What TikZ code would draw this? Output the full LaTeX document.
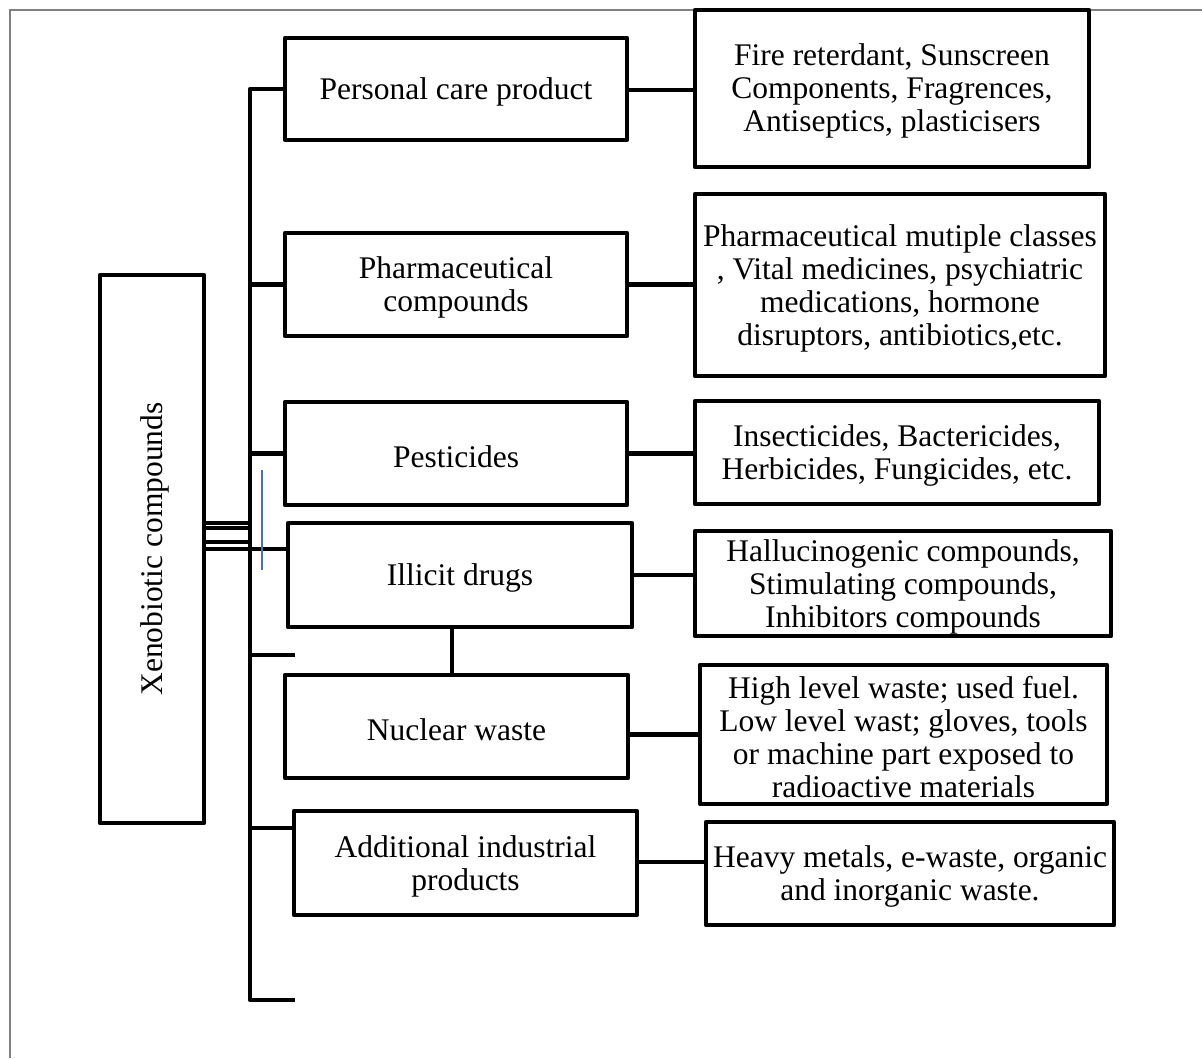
\documentclass[tikz,border=0pt]{standalone}
\usepackage{fontspec}
\setmainfont{Liberation Serif}
\definecolor{frame}{RGB}{128,128,128}
\definecolor{bluemark}{RGB}{68,114,196}
\begin{document}
\begin{tikzpicture}[x=1pt,y=-1pt,
  box/.style={draw, line width=4.6pt, rectangle, inner sep=0pt, line join=round},
  txt/.style={inner sep=0pt, align=center, font=\fontsize{31.5}{33}\selectfont},
  conn/.style={line width=4.6pt, line join=round},
  thinconn/.style={line width=4pt},
  bluestroke/.style={draw=bluemark, line width=1.5pt}]
\useasboundingbox (0,0) rectangle (1202,1058);
\draw[frame, line width=2pt] (10,1058) -- (10,10) -- (1202,10);

% left column
\node[box, minimum width=104, minimum height=548] (xeno) at (152,549) {};
\node[txt, rotate=90] (xenot) at ([xshift=3pt]xeno.center) {Xenobiotic compounds};
\node[box, minimum width=342, minimum height=102] (pc) at (456,89) {};
\node[txt] (pct) at ([yshift=-3pt]pc.center) {Personal care product};
\node[box, minimum width=342, minimum height=103] (ph) at (456,284.5) {};
\node[txt] (pht) at ([yshift=-3pt]ph.center) {Pharmaceutical\\compounds};
\node[box, minimum width=342, minimum height=103] (pe) at (456,453.5) {};
\node[txt] (pet) at ([yshift=-3pt]pe.center) {Pesticides};
\node[box, minimum width=344, minimum height=104] (il) at (460,575) {};
\node[txt] (ilt) at ([yshift=-3pt]il.center) {Illicit drugs};
\node[box, minimum width=343, minimum height=103] (nw) at (456.5,726.5) {};
\node[txt] (nwt) at ([yshift=-3pt]nw.center) {Nuclear waste};
\node[box, minimum width=343, minimum height=104] (ai) at (465.5,863) {};
\node[txt] (ait) at ([yshift=-3pt]ai.center) {Additional industrial\\products};

% right column
\node[box, minimum width=394, minimum height=157] (r1) at (892,88.5) {};
\node[txt] (r1t) at ([yshift=-2pt]r1.center) {Fire reterdant, Sunscreen\\Components, Fragrences,\\Antiseptics, plasticisers};
\node[box, minimum width=410, minimum height=182] (r2) at (900,285) {};
\node[txt] (r2t) at ([yshift=-3pt]r2.center) {Pharmaceutical mutiple classes\\, Vital medicines, psychiatric\\medications, hormone\\disruptors, antibiotics,etc.};
\node[box, minimum width=404, minimum height=103] (r3) at (897,452.5) {};
\node[txt] (r3t) at ([yshift=-3pt]r3.center) {Insecticides, Bactericides,\\Herbicides, Fungicides, etc.};
\node[box, minimum width=416, minimum height=105] (r4) at (903,583.5) {};
\node[txt] (r4t) at ([yshift=-3pt]r4.center) {Hallucinogenic compounds,\\Stimulating compounds,\\Inhibitors compounds};
\node[box, minimum width=407, minimum height=139] (r5) at (903.5,734.5) {};
\node[txt] (r5t) at ([yshift=-3pt]r5.center) {High level waste; used fuel.\\Low level wast; gloves, tools\\or machine part exposed to\\radioactive materials};
\node[box, minimum width=408, minimum height=103] (r6) at (910,873.5) {};
\node[txt] (r6t) at ([yshift=-3pt]r6.center) {Heavy metals, e-waste, organic\\and inorganic waste.};

% spine
\coordinate (sptop) at (250,89);
\coordinate (spbot) at (250,1000);
\coordinate (end1) at (295,1000);
\coordinate (end2) at (295,655);
\coordinate (b1) at (262,470);
\coordinate (b2) at (262,570);
\draw[conn] (pc.west) -- (sptop) -- (spbot) -- (end1);
\draw[conn] (ph.west) -- (ph.west -| sptop);
\draw[conn] (pe.west) -- (pe.west -| sptop);
\draw[conn] (ai.west |- 0,828) -- (sptop |- 0,828);
\draw[conn] (end2) -- (end2 -| sptop);

% links from the xenobiotic box
\draw[thinconn] (xeno.east |- 0,523) -- (sptop |- 0,523);
\draw[thinconn] (xeno.east |- 0,528) -- (sptop |- 0,528);
\draw[conn] (xeno.east |- 0,542) -- (sptop |- 0,542);
\draw[conn] (xeno.east |- 0,549) -- (il.west |- 0,549);
\draw[bluestroke] (b1) -- (b2);

% illicit to nuclear
\draw[conn] (il.south -| 452,0) -- (nw.north -| 452,0);

% horizontal connectors
\draw[conn] (pc.east |- 0,90) -- (r1.west |- 0,90);
\draw[conn] (ph.east) -- (ph.east -| r2.west);
\draw[conn] (pe.east) -- (pe.east -| r3.west);
\draw[conn] (il.east) -- (il.east -| r4.west);
\draw[conn] (nw.east |- r5.west) -- (r5.west);
\draw[conn] (ai.east |- 0,862) -- (r6.west |- 0,862);
\end{tikzpicture}
\end{document}
